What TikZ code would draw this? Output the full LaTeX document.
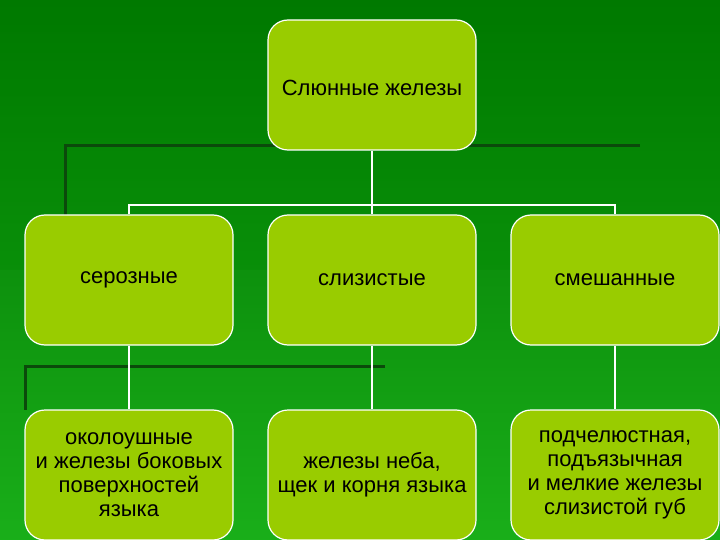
\documentclass[tikz,border=0pt]{standalone}
\usepackage{fontspec}
\setmainfont{Liberation Sans}
\begin{document}
\begin{tikzpicture}[x=1pt,y=-1pt,
  box/.style={draw=white,line width=1.2pt,fill=boxgreen,rounded corners=20pt,minimum width=208pt,minimum height=130pt,inner sep=0pt,font=\fontsize{22}{24}\selectfont,align=center},
  conn/.style={white,line width=1.5pt},
  deco/.style={draw=decogreen,line width=3pt}]
\definecolor{boxgreen}{HTML}{99CC00}
\definecolor{decogreen}{HTML}{0B4A0B}
\useasboundingbox (0,0) rectangle (720,540);
\shade[top color=green!45!black, bottom color=green!65!black!90!white] (0,0) rectangle (720,540);
\fill[green!55!black,opacity=0.25] (0,0) rectangle (720,270);
% decorative lines
\draw[deco] (640,146) -- (65,146) -- (65,215);
\draw[deco] (385,366) -- (25,366) -- (25,410);
% boxes
\node[box] (top) at (372,85) {};
\node[font=\fontsize{22}{24}\selectfont] (toplbl) at (372,88) {Слюнные железы};
\node[box] (s) at (129,280) {серозные};
\node[box] (m) at (372,280) {слизистые};
\node[box] (x) at (615,280) {смешанные};
\node[box] (s2) at (129,475) {околоушные\\и железы боковых\\поверхностей\\языка};
\node[box] (m2) at (372,475) {железы неба,\\щек и корня языка};
\node[box] (x2) at (615,475) {подчелюстная,\\подъязычная\\и мелкие железы\\слизистой губ};
\coordinate (j) at (372,205);
\draw[conn] (top.south) -- (j);
\draw[conn] (s.north) |- (j) -| (x.north);
\draw[conn] (j) -- (m.north);
\draw[conn] (s.south) -- (s2.north);
\draw[conn] (m.south) -- (m2.north);
\draw[conn] (x.south) -- (x2.north);
\end{tikzpicture}
\end{document}
